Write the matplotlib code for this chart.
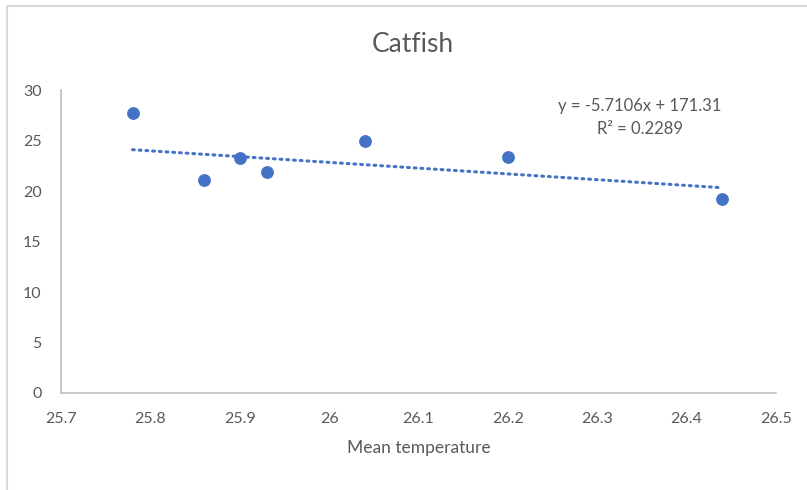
import numpy as np
import matplotlib.pyplot as plt
from matplotlib.patches import Rectangle

# values
temperature = [25.78, 25.86, 25.90, 25.93, 26.04, 26.20, 26.44]
catfish = [27.69, 21.09, 23.30, 21.85, 24.95, 23.40, 19.20]
slope = -5.7106
intercept = 171.31
r_squared = 0.2289

xticks = [25.7, 25.8, 25.9, 26.0, 26.1, 26.2, 26.3, 26.4, 26.5]
xtick_labels = ['25.7', '25.8', '25.9', '26', '26.1', '26.2', '26.3', '26.4', '26.5']
yticks = [0, 5, 10, 15, 20, 25, 30]

plt.rcParams['font.family'] = ['Lato', 'DejaVu Sans']
grey = '#595959'
blue = '#4472C4'

fig = plt.figure(figsize=(8.07, 4.90), dpi=100)
# chart border, only top and left edges fall inside the screenshot
fig.patches.append(Rectangle((7 / 807, -0.1), 1.0, 1.1 - 6 / 490,
                             transform=fig.transFigure, fill=False,
                             edgecolor='#D9D9D9', linewidth=1.5))

ax = fig.add_axes([61 / 807, 1 - 393 / 490, 715 / 807, 303 / 490])

ax.scatter(temperature, catfish, s=85, color=blue, zorder=3, linewidths=0)

xs = np.array([min(temperature), max(temperature)])
ax.plot(xs, slope * xs + intercept, color=blue, linestyle=(0, (0.6, 1.6)),
        linewidth=2.2, dash_capstyle='round', zorder=2)

ax.set_xlim(25.7, 26.5)
ax.set_ylim(0, 30)
ax.set_xticks(xticks)
ax.set_xticklabels(xtick_labels)
ax.set_yticks(yticks)
ax.tick_params(axis='both', length=0, labelsize=11.5, colors=grey)
ax.tick_params(axis='x', pad=14)
ax.tick_params(axis='y', pad=14)

for side in ['top', 'right']:
    ax.spines[side].set_visible(False)
for side in ['left', 'bottom']:
    ax.spines[side].set_color('#BFBFBF')
    ax.spines[side].set_linewidth(1.2)

ax.set_xlabel('Mean temperature', fontsize=12.5, color=grey, labelpad=10)
fig.text(413 / 807, 1 - 45 / 490, 'Catfish', fontsize=19, color=grey,
         ha='center', va='center')

fig.text(640 / 807, 1 - 106 / 490, 'y = -5.7106x + 171.31', fontsize=12,
         color=grey, ha='center', va='center')
fig.text(640 / 807, 1 - 129 / 490, 'R² = %.4f' % r_squared, fontsize=12,
         color=grey, ha='center', va='center')

plt.savefig('out.png', dpi=100)
